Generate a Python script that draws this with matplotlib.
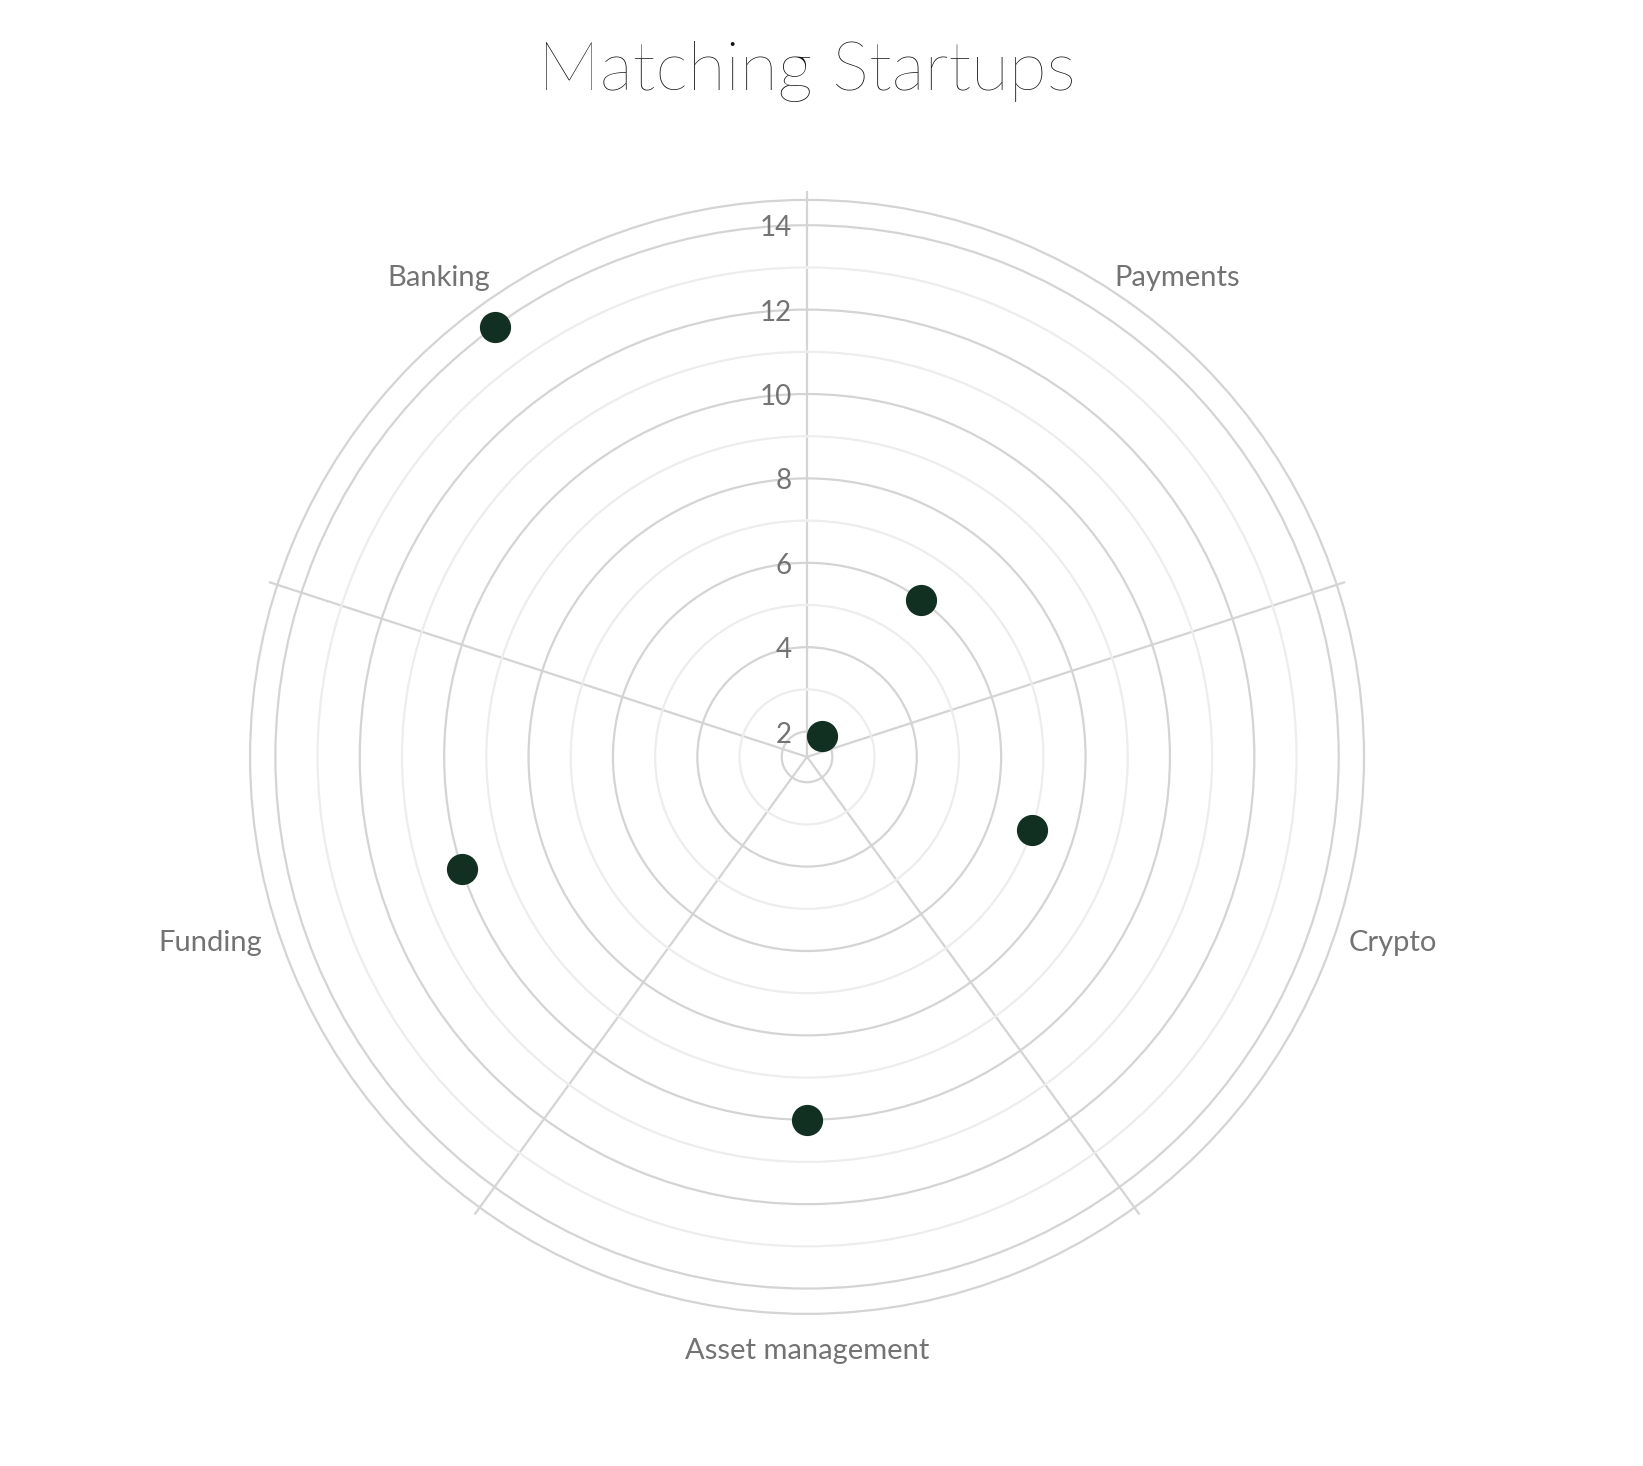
import numpy as np
import matplotlib
matplotlib.use("Agg")
import matplotlib.pyplot as plt

plt.rcParams['font.family'] = ['Lato', 'DejaVu Sans']

# -----------------------------------------------------------------------------
# Data
# -----------------------------------------------------------------------------
categories = ["Payments", "Crypto", "Asset management", "Funding", "Banking"]
point_categories = ["Payments", "Payments", "Crypto", "Asset management", "Funding", "Banking"]
point_values = [6, 2, 7, 10, 10, 14]
radial_ticks = [2, 4, 6, 8, 10, 12, 14]
radial_minor = [3, 5, 7, 9, 11, 13]
r_range = (1.4, 14.6)

GRID_MAJOR = "#d4d4d4"
GRID_MINOR = "#ededed"
TEXT_GRAY = "#737373"
DOT = "#123021"

n = len(categories)
sector = 2 * np.pi / n
cat_theta = {c: (i + 0.5) * sector for i, c in enumerate(categories)}
boundaries = np.arange(n) * sector

fig = plt.figure(figsize=(16.43, 14.66), dpi=100)
ax = fig.add_axes([0.1522, 0.1037, 0.678, 0.760], projection="polar")
ax.set_theta_zero_location("N")
ax.set_theta_direction(-1)
ax.set_ylim(*r_range)

# radial grid: even rings darker, odd rings lighter
ax.set_yticks(radial_ticks)
ax.set_yticks(radial_minor, minor=True)
ax.set_yticklabels([])
ax.yaxis.grid(True, which="major", color=GRID_MAJOR, lw=1.6)
ax.yaxis.grid(True, which="minor", color=GRID_MINOR, lw=1.6)
ax.tick_params(axis="y", which="both", length=0)

ax.set_xticks([])
ax.xaxis.grid(False)
ax.spines["polar"].set_color(GRID_MAJOR)
ax.spines["polar"].set_linewidth(1.6)

# sector dividers, running a bit past the outer ring
for t in boundaries:
    ax.plot([t, t], [r_range[0], 14.78], color=GRID_MAJOR, lw=1.6,
            clip_on=False, zorder=1)

# radial tick labels left of the vertical axis line
for v in radial_ticks:
    ax.annotate(str(v), xy=(0, v), xytext=(-15, -3), textcoords="offset pixels",
                ha="right", va="center", fontsize=20, color=TEXT_GRAY)

# category labels around the outside (offsets in screen pixels, y downwards)
label_style = {
    "Payments": dict(xytext=(43, -28), ha="center", va="center"),
    "Crypto": dict(xytext=(12, 14), ha="left", va="center"),
    "Asset management": dict(xytext=(0, 37), ha="center", va="center"),
    "Funding": dict(xytext=(-15, 14), ha="right", va="center"),
    "Banking": dict(xytext=(-41, -28), ha="center", va="center"),
}
for c in categories:
    st = label_style[c]
    dx, dy = st["xytext"]
    ax.annotate(c, xy=(cat_theta[c], r_range[1]), xytext=(dx, -dy),
                textcoords="offset pixels", ha=st["ha"], va=st["va"],
                fontsize=21, color=TEXT_GRAY, annotation_clip=False)

# points
theta = [cat_theta[c] for c in point_categories]
ax.scatter(theta, point_values, s=460, color=DOT, zorder=5, clip_on=False)

fig.text(0.491, 0.9515, "Matching Startups", ha="center", va="center",
         fontsize=50, fontweight="light", color="#111111")

fig.savefig("out.png", dpi=100, facecolor="white")
